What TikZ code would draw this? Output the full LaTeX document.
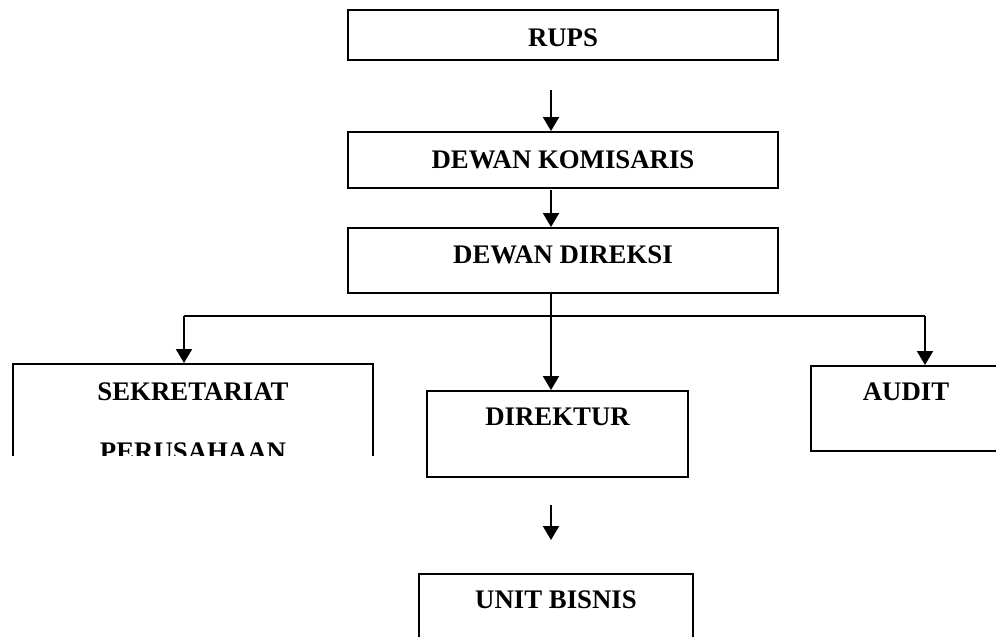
\documentclass[tikz,border=0pt]{standalone}
\usepackage{fontspec}
\setmainfont{Liberation Serif}
\usetikzlibrary{arrows.meta,positioning}

\begin{document}
\begin{tikzpicture}[x=0.5pt,y=-0.5pt,>={Triangle[length=7pt,width=8pt]},
  box/.style={draw,line width=1pt,inner sep=0pt,anchor=north west},
  lbl/.style={inner sep=0pt,font=\bfseries\fontsize{13.4}{16}\selectfont,align=center},
  arr/.style={->,line width=1pt}]
\useasboundingbox (0,0) rectangle (996,637);
\clip (0,0) rectangle (996,637);
% boxes
\node[box,minimum width=215pt,minimum height=25pt] (rups) at (347,9) {};
\node[box,minimum width=215pt,minimum height=28pt] (dk) at (347,131) {};
\node[box,minimum width=215pt,minimum height=32.5pt] (dd) at (347,227) {};
\begin{scope}
\clip (8,355) rectangle (380,455);
\node[box,minimum width=180pt,minimum height=60pt] (sek) at (12,363) {};
\node[lbl,below=9.5pt of sek.north] (tsek) {SEKRETARIAT\\[14pt]PERUSAHAAN};
\end{scope}
\node[box,minimum width=130.5pt,minimum height=43pt] (dir) at (426,390) {};
\node[box,minimum width=95pt,minimum height=42.5pt] (aud) at (810,365) {};
\node[box,minimum width=137pt,minimum height=45pt] (unit) at (418,573) {};
% labels
\node[lbl,below=9.5pt of rups.north] (trups) {RUPS};
\node[lbl,below=9.5pt of dk.north] (tdk) {DEWAN KOMISARIS};
\node[lbl,below=9pt of dd.north] (tdd) {DEWAN DIREKSI};
\node[lbl,below=9pt of dir.north] (tdir) {DIREKTUR};
\node[lbl,below=8.5pt of aud.north] (taud) {AUDIT};
\node[lbl,below=8.5pt of unit.north] (tunit) {UNIT BISNIS};
% arrows
\coordinate (c1) at (551,90);
\coordinate (c2) at (551,190);
\coordinate (bus) at (551,316);
\coordinate (busl) at (184,316);
\coordinate (busr) at (925,316);
\coordinate (c3) at (551,505);
\coordinate (c4) at (551,540);
\draw[arr] (c1) -- (c1 |- dk.north);
\draw[arr] (c2) -- (c2 |- dd.north);
\draw[line width=1pt] (bus |- dd.south) -- (bus);
\draw[line width=1pt] (busl) -- (busr);
\draw[arr] (busl) -- (busl |- sek.north);
\draw[arr] (bus) -- (bus |- dir.north);
\draw[arr] (busr) -- (busr |- aud.north);
\draw[arr] (c3) -- (c4);
\end{tikzpicture}
\end{document}
